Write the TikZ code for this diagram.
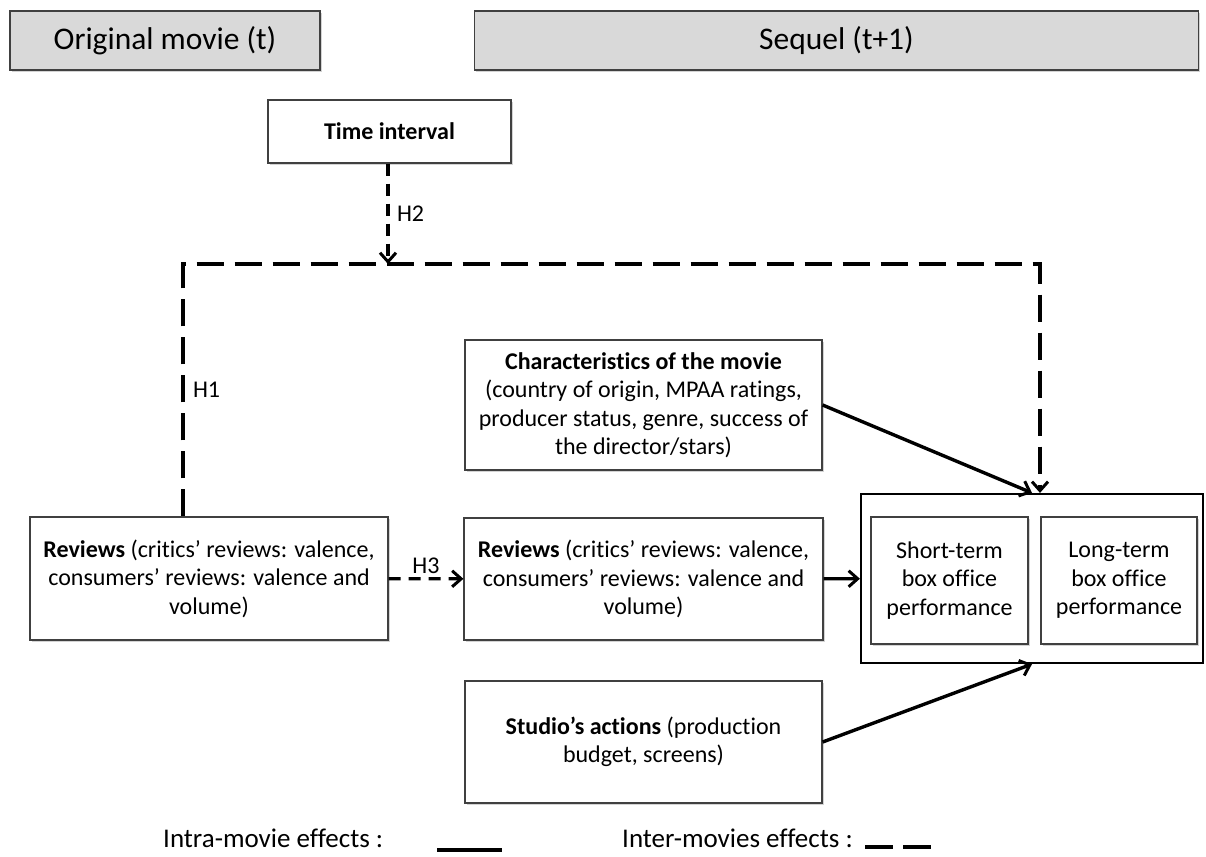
\documentclass[tikz,border=0pt]{standalone}
\usepackage{fontspec}
\setmainfont{Carlito}[Ligatures = NoCommon]
\usetikzlibrary{arrows.meta, shadows}

\newcommand{\bodyfont}{\fontsize{24}{28.5}\selectfont}

\tikzset{
	shade box/.style = {draw = black!75, line width = 1.2pt, drop shadow = {shadow xshift = 1.5pt, shadow yshift = -2pt, opacity = 0.35}},
	header/.style = {shade box, fill = black!15, font = \fontsize{31.5}{36}\selectfont},
	textbox/.style = {shade box, fill = white, align = center, inner sep = 0pt, font = \bodyfont},
	intra/.style = {line width = 3.4pt, -{Straight Barb[length = 9pt, width = 16pt, line width = 3pt]}},
	inter/.style = {intra, dash pattern = on 12pt off 8pt},
	inter long/.style = {intra, dash pattern = on 27pt off 11pt}
}

\begin{document}
\begin{tikzpicture}[x = 1pt, y = -1pt]
	\useasboundingbox (0, 0) rectangle (1206, 856);

	% headers
	\node[header, minimum width = 310pt, minimum height = 59pt] (orig) at (165, 40.5){Original movie (t)};
	\node[header, minimum width = 724pt, minimum height = 59pt] (seq) at (836.5, 40.5){Sequel (t+1)};

	% boxes
	\node[textbox, minimum width = 243pt, minimum height = 63pt] (time) at (389.5, 131.5){\textbf{Time interval}};
	\node[textbox, minimum width = 357pt, minimum height = 130pt] (chars) at (643.5, 405){\textbf{Characteristics of the movie}\\(country of origin, MPAA ratings,\\producer status, genre, success of\\the director/stars)};
	\node[textbox, minimum width = 358pt, minimum height = 123pt] (revt) at (209, 578.5){\textbf{Reviews} (critics’ reviews: valence,\\consumers’ reviews: valence and\\volume)};
	\node[textbox, minimum width = 359pt, minimum height = 122pt] (revs) at (643.5, 579){\textbf{Reviews} (critics’ reviews: valence,\\consumers’ reviews: valence and\\volume)};
	\node[textbox, minimum width = 357pt, minimum height = 122pt] (studio) at (643.5, 742){\textbf{Studio’s actions} (production\\budget, screens)};

	% box office
	\node[draw, line width = 2.2pt, minimum width = 342pt, minimum height = 169pt] (perf) at (1032, 578.5){};
	\node[textbox, minimum width = 157pt, minimum height = 127pt] (short) at (949.5, 580.5){Short-term\\box office\\performance};
	\node[textbox, minimum width = 156pt, minimum height = 127pt] (long) at (1119, 580.5){Long-term\\box office\\performance};

	% arrows
	\coordinate (h1) at (183, 264);
	\coordinate (h2) at (388, 264);
	\coordinate (tr) at (1040, 264);
	\draw[inter] (time.south -| h2) -- node[right, xshift = 4pt, font = \bodyfont]{H2} (h2);
	\draw[inter long] (revt.north -| h1) -- node[right, xshift = 5pt, font = \bodyfont]{H1} (h1) -- (tr) -- (tr |- perf.north);
	\draw[inter] (revt) -- node[above, font = \bodyfont]{H3} (revs);
	\draw[intra] (chars.east) -- (perf.north);
	\draw[intra] (revs) -- (perf);
	\draw[intra] (studio.east) -- (perf.south);

	% legend
	\node[anchor = base west, inner sep = 0pt, font = \fontsize{27}{32}\selectfont] (leg1) at (163, 847){Intra-movie effects :};
	\node[anchor = base west, inner sep = 0pt, font = \fontsize{27}{32}\selectfont] (leg2) at (622, 847){Inter-movies effects :};
	\draw[line width = 3.4pt] (437, 850) -- (502, 850);
	\draw[line width = 3.4pt, dash pattern = on 28pt off 10pt] (865, 847) -- (932, 847);
\end{tikzpicture}
\end{document}
